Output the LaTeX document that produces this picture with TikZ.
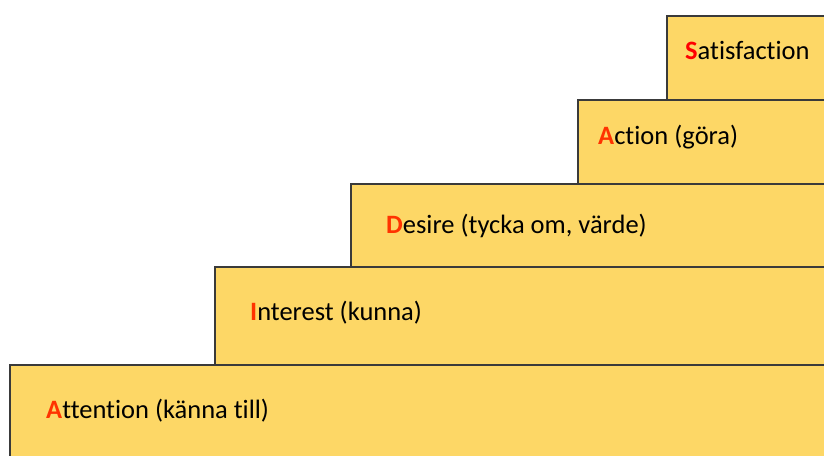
\documentclass[tikz,border=0pt]{standalone}
\usepackage{fontspec}
\setmainfont[Ligatures=NoCommon]{Carlito}
\definecolor{stepfill}{HTML}{FDD766}
\definecolor{stepline}{HTML}{3A3A3A}
\definecolor{initial}{HTML}{FF3300}
\definecolor{initialS}{HTML}{FF0000}
\newcommand{\initial}[2][initial]{\textbf{\textcolor{#1}{#2}}}
\begin{document}
\begin{tikzpicture}[x=1pt,y=-1pt,
  stair/.style={fill=stepfill,draw=stepline,line width=1.2pt},
  label/.style={anchor=west,inner sep=0pt,font=\fontsize{26.5}{31}\selectfont,text=black}]
\useasboundingbox (0,0) rectangle (824,455);
% staircase, lowest step first so upper edges overlap
\path[stair] (10,365) rectangle (830,462);
\path[stair] (215,267) rectangle (830,365);
\path[stair] (351,184) rectangle (830,267);
\path[stair] (578,100) rectangle (830,184);
\path[stair] (667,16) rectangle (830,100);
% step captions
\node[label] (att) at (46,411) {\initial{A}ttention (känna till)};
\node[label] (int) at (250,313) {\initial{I}nterest (kunna)};
\node[label] (des) at (386,226) {\initial{D}esire (tycka om, värde)};
\node[label] (act) at (598,137) {\initial{A}ction (göra)};
\node[label] (sat) at (685,50) {\initial[initialS]{S}atisfaction};
\end{tikzpicture}
\end{document}
